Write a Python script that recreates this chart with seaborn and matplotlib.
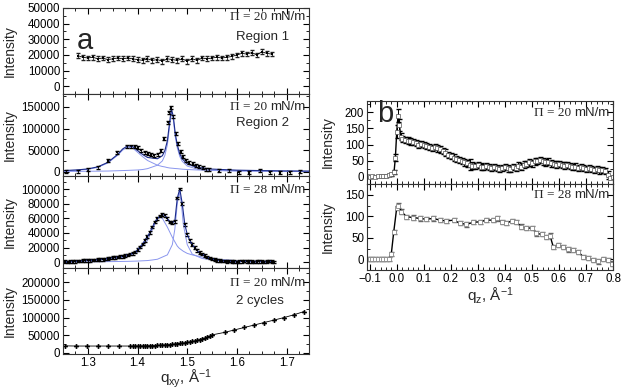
import numpy as np
import pandas as pd
import matplotlib
matplotlib.use("Agg")
import matplotlib.pyplot as plt
from matplotlib.ticker import MultipleLocator
import seaborn as sns

# ---- panel a1: region 1, 20 mN/m
r1_q = [1.28, 1.29, 1.30, 1.31, 1.32, 1.33, 1.34, 1.35, 1.36, 1.37, 1.38, 1.39, 1.40, 1.41,
        1.42, 1.43, 1.44, 1.45, 1.46, 1.47, 1.48, 1.49, 1.50, 1.51, 1.52, 1.53, 1.54, 1.55,
        1.56, 1.57, 1.58, 1.59, 1.60, 1.61, 1.62, 1.63, 1.64, 1.65, 1.66, 1.67]
r1_i = [19500, 18500, 18000, 18500, 17500, 18000, 17000, 17500, 18000, 17500, 18000, 17500,
        17000, 16500, 17500, 16500, 17000, 16000, 17500, 17000, 16500, 17500, 16000, 17500,
        16500, 18000, 17500, 18000, 18500, 18000, 18500, 19000, 20000, 21000, 20500, 21500,
        20000, 22000, 21000, 20500]

# ---- panel a2: region 2, 20 mN/m
r2_q = [1.257, 1.281, 1.301, 1.321, 1.341, 1.359, 1.379, 1.387, 1.394, 1.401, 1.407, 1.414,
        1.421, 1.427, 1.434, 1.441, 1.447, 1.454, 1.461, 1.464, 1.467, 1.472, 1.477, 1.482,
        1.487, 1.492, 1.497, 1.504, 1.511, 1.517, 1.524, 1.531, 1.537, 1.544, 1.564, 1.584,
        1.604, 1.624, 1.647, 1.667, 1.687, 1.707, 1.727]
r2_i = [0, 1500, 4000, 10000, 25000, 45000, 58000, 59000, 58000, 55000, 50000, 45000,
        42000, 39000, 38000, 40000, 48000, 76000, 115000, 138000, 148000, 128000, 88000, 65000,
        46000, 35000, 27000, 21000, 18000, 14000, 11500, 9000, 6000, 4000, 2000, 3000,
        -1500, -2000, 3000, -1500, -3000, -1000, 0]
r2_fit_q = [1.25, 1.28, 1.30, 1.32, 1.34, 1.36, 1.37, 1.38, 1.39, 1.40, 1.41, 1.42, 1.44,
            1.45, 1.455, 1.46, 1.465, 1.468, 1.472, 1.476, 1.48, 1.485, 1.49, 1.50, 1.52,
            1.55, 1.60, 1.65, 1.70, 1.75]
r2_fit_broad = [2000, 3500, 5500, 10000, 20000, 38000, 50000, 57000, 55000, 45000, 35000,
                26000, 15000, 12000, 11000, 9500, 8500, 8200, 7800, 7300, 7000, 6400, 5800,
                5000, 4000, 3000, 2000, 1500, 1000, 800]
r2_fit_sharp = [500, 700, 1000, 1200, 1500, 2200, 2600, 3000, 3500, 4000, 5000, 7000, 15000,
                25000, 38000, 62000, 110000, 138000, 120000, 80000, 55000, 35000, 24000,
                13000, 6000, 3000, 1500, 1000, 700, 500]
r2_fit_total = [2500, 4200, 6500, 11200, 21500, 40000, 52600, 60000, 58500, 49000, 40000,
                33000, 30000, 37000, 49000, 71500, 118500, 146000, 127800, 87300, 62000,
                41400, 29800, 18000, 10000, 6000, 3500, 2500, 1700, 1300]

# ---- panel a3: 28 mN/m
r3_q = [1.255, 1.26, 1.265, 1.27, 1.275, 1.28, 1.285, 1.29, 1.295, 1.30, 1.305, 1.31, 1.315,
        1.32, 1.325, 1.33, 1.335, 1.34, 1.345, 1.35, 1.355, 1.36, 1.365, 1.37, 1.375, 1.38,
        1.385, 1.39, 1.395, 1.40, 1.405, 1.41, 1.415, 1.42, 1.425, 1.43, 1.435, 1.44, 1.445,
        1.45, 1.455, 1.46, 1.465, 1.47, 1.475, 1.48, 1.485, 1.49, 1.495, 1.50, 1.505, 1.51,
        1.515, 1.52, 1.525, 1.53, 1.535, 1.54, 1.545, 1.55, 1.555, 1.56, 1.565, 1.57, 1.575,
        1.58, 1.585, 1.59, 1.595, 1.60, 1.605, 1.61, 1.615, 1.62, 1.625, 1.63, 1.635, 1.64,
        1.645, 1.65, 1.655, 1.66, 1.665, 1.67, 1.675]
r3_i = [500, 0, 500, 800, 1000, 1500, 1500, 2000, 2500, 2500, 2500, 3000, 3000, 3500, 3500,
        4000, 4500, 5000, 5500, 6000, 6500, 7000, 7500, 8000, 9000, 10000, 11000, 12000, 14000,
        17000, 21000, 25000, 30000, 35000, 41000, 48000, 55000, 60000, 63000, 65000, 64000,
        60000, 55000, 54000, 56000, 88000, 100000, 80000, 52000, 38000, 30000, 24000, 20000,
        16000, 13000, 11000, 9000, 7000, 5500, 4500, 3500, 2500, 2000, 1500, 1500, 1000, 1500,
        500, 500, 0, 500, 1000, 1500, 1000, 500, 500, 0, 500, 1000, 500, 0, 500, 1500, 500, 0]
r3_fit_q = [1.25, 1.30, 1.35, 1.38, 1.40, 1.42, 1.43, 1.44, 1.445, 1.45, 1.46, 1.47, 1.475,
            1.48, 1.484, 1.488, 1.492, 1.50, 1.51, 1.53, 1.56, 1.60, 1.67]
r3_fit_broad = [1000, 2000, 4000, 8000, 14000, 30000, 45000, 59000, 62000, 60000, 48000,
                34000, 28000, 22000, 19000, 17000, 15000, 12000, 10000, 7000, 4000, 2000, 1000]
r3_fit_sharp = [300, 500, 800, 1100, 1500, 2200, 3000, 4000, 5500, 7000, 10000, 24000, 45000,
                80000, 96000, 82000, 52000, 24000, 11000, 5000, 2500, 1200, 600]

# ---- panel a4: 2 cycles, 20 mN/m
c2_q = [1.255, 1.277, 1.299, 1.32, 1.341, 1.362, 1.385, 1.39, 1.395, 1.40, 1.405, 1.41, 1.415,
        1.42, 1.425, 1.43, 1.435, 1.44, 1.445, 1.45, 1.455, 1.46, 1.465, 1.47, 1.475, 1.48,
        1.485, 1.49, 1.495, 1.50, 1.505, 1.51, 1.515, 1.52, 1.525, 1.53, 1.535, 1.54, 1.545,
        1.55, 1.575, 1.595, 1.615, 1.635, 1.655, 1.675, 1.695, 1.715, 1.735]
c2_i = [20000, 19500, 19500, 19500, 19500, 19500, 19500, 19500, 19600, 19700, 19800, 20000,
        20100, 20300, 20500, 20800, 21000, 21400, 21800, 22200, 22700, 23200, 23800, 24500,
        25200, 26000, 26800, 27700, 28700, 29800, 31000, 32400, 34000, 35800, 37700, 39800,
        42000, 44500, 47500, 51000, 58000, 65000, 72000, 79000, 86000, 93000, 100000, 108000,
        117000]

# ---- panel b1: qz scan, 20 mN/m
b1_q = [-0.11, -0.10, -0.09, -0.08, -0.07, -0.06, -0.05, -0.04, -0.03, -0.02, -0.01, -0.005,
        0.0, 0.005, 0.01, 0.015, 0.02, 0.03, 0.04, 0.05, 0.06, 0.07, 0.08, 0.09, 0.10, 0.11,
        0.12, 0.13, 0.14, 0.15, 0.16, 0.17, 0.18, 0.19, 0.20, 0.21, 0.22, 0.23, 0.24, 0.25,
        0.26, 0.27, 0.28, 0.29, 0.30, 0.31, 0.32, 0.33, 0.34, 0.35, 0.36, 0.37, 0.38, 0.39,
        0.40, 0.41, 0.42, 0.43, 0.44, 0.45, 0.46, 0.47, 0.48, 0.49, 0.50, 0.51, 0.52, 0.53,
        0.54, 0.55, 0.56, 0.57, 0.58, 0.59, 0.60, 0.61, 0.62, 0.63, 0.64, 0.65, 0.66, 0.67,
        0.68, 0.69, 0.70, 0.71, 0.72, 0.73, 0.74, 0.75, 0.76, 0.77, 0.78, 0.79, 0.80]
b1_i = [2, 1, 2, 1, 2, 2, 3, 3, 5, 8, 15, 60, 140, 190, 160, 125, 118, 115, 112, 110, 108,
        105, 100, 102, 98, 95, 93, 90, 92, 88, 85, 80, 75, 68, 65, 60, 55, 52, 50, 45, 42, 38,
        35, 33, 36, 32, 30, 34, 31, 28, 30, 27, 25, 28, 30, 26, 25, 30, 28, 35, 32, 38, 40, 45,
        42, 48, 50, 52, 48, 45, 47, 42, 40, 38, 40, 37, 35, 36, 33, 30, 32, 28, 30, 27, 25, 28,
        24, 22, 25, 20, 22, 18, 5, -2, 0]
b1_err = [2, 2, 2, 2, 2, 2, 2, 2, 3, 4, 6, 12, 20, 20, 18, 12, 10, 10, 10, 10, 10, 10, 10,
          10, 10, 10, 10, 10, 10, 10, 10, 10, 10, 10, 10, 10, 10, 10, 10, 10, 10, 18, 10, 10,
          10, 10, 10, 10, 10, 10, 10, 10, 10, 10, 10, 10, 10, 10, 10, 10, 10, 10, 10, 10, 10,
          10, 10, 10, 10, 10, 10, 10, 10, 10, 10, 10, 10, 10, 10, 10, 10, 10, 10, 10, 10, 10,
          10, 10, 10, 10, 10, 10, 12, 5, 4]

# ---- panel b2: qz scan, 28 mN/m
b2_q = [-0.11, -0.10, -0.09, -0.08, -0.07, -0.06, -0.05, -0.04, -0.03, -0.02, -0.011, 0.0,
        0.006, 0.017, 0.036, 0.06, 0.085, 0.11, 0.135, 0.16, 0.184, 0.21, 0.233, 0.258,
        0.283, 0.307, 0.332, 0.357, 0.37, 0.388, 0.406, 0.425, 0.443, 0.46, 0.48, 0.50,
        0.517, 0.536, 0.554, 0.567, 0.579, 0.598, 0.616, 0.635, 0.653, 0.672, 0.69, 0.709,
        0.727, 0.746, 0.764, 0.783, 0.795]
b2_i = [0, 0, 0, 0, 0, 0, 0, 0, 1, 13, 64, 120, 125, 111, 99, 97, 95, 93, 95, 91, 89, 91,
        84, 81, 86, 87, 91, 91, 95, 87, 84, 89, 86, 76, 72, 73, 60, 58, 52, 55, 29, 33, 29,
        23, 21, 17, 5, 3, -2, -5, 0, -2, -10]

sns.set_theme(style="ticks")
plt.rcParams["font.family"] = ["Liberation Sans", "DejaVu Sans"]
plt.rcParams["mathtext.fontset"] = "custom"
plt.rcParams["mathtext.rm"] = "Liberation Sans"
plt.rcParams["mathtext.it"] = "Liberation Sans"
plt.rcParams["axes.linewidth"] = 0.8

fig = plt.figure(figsize=(6.24, 3.9), dpi=100)
L, W = 63 / 624, 246 / 624
ax1 = fig.add_axes([L, 1 - 94 / 390, W, 86 / 390])
ax2 = fig.add_axes([L, 1 - 176 / 390, W, 82 / 390])
ax3 = fig.add_axes([L, 1 - 268 / 390, W, 92 / 390])
ax4 = fig.add_axes([L, 1 - 354 / 390, W, 86 / 390])
R = 367 / 624
bx1 = fig.add_axes([R, 1 - 184 / 390, W, 83 / 390])
bx2 = fig.add_axes([R, 1 - 270 / 390, W, 86 / 390])


def style(ax, xmaj, xmin, ymaj, ymin, xlim, ylim, lab_x):
    ax.set_xlim(*xlim)
    ax.set_ylim(*ylim)
    ax.xaxis.set_major_locator(MultipleLocator(xmaj))
    ax.xaxis.set_minor_locator(MultipleLocator(xmin))
    ax.yaxis.set_major_locator(MultipleLocator(ymaj))
    ax.yaxis.set_minor_locator(MultipleLocator(ymin))
    ax.tick_params(which="both", direction="in", top=True, right=True,
                   labelsize=8.3, colors="black", pad=2)
    ax.tick_params(which="major", length=4, width=0.8)
    ax.tick_params(which="minor", length=2, width=0.6)
    ax.set_ylabel("Intensity", fontsize=10)
    ax.yaxis.set_label_coords(lab_x, 0.5)
    ax.set_xlabel("")
    for s in ax.spines.values():
        s.set_color("#333333")


def pi_label(ax, val, y):
    t = ax.text(0.985, y, "mN/m", transform=ax.transAxes, ha="right", va="center",
                fontsize=9.5)
    ax.annotate(f"Π = {val} ", xy=(0, 0.5), xycoords=t, ha="right", va="center",
                fontsize=9.5, family="Liberation Serif")


fit_light = "#8a96ee"
fit_dark = "#1a2a8a"

# a1
ax1.errorbar(r1_q, r1_i, yerr=1500, fmt="none", ecolor="#222222", elinewidth=0.6, capsize=1.5)
sns.lineplot(x=r1_q, y=r1_i, ax=ax1, color="black", lw=0.6, marker="s", ms=1.6, mew=0)
style(ax1, 0.1, 0.025, 10000, 5000, (1.25, 1.745), (-5000, 50000), -0.19)
ax1.tick_params(labelbottom=False)
pi_label(ax1, 20, 0.895)
ax1.text(0.705, 0.66, "Region 1", transform=ax1.transAxes, fontsize=9.5, va="center")
ax1.text(0.055, 0.62, "a", transform=ax1.transAxes, fontsize=21, va="center")

# a2
sns.lineplot(x=r2_fit_q, y=r2_fit_broad, ax=ax2, color=fit_light, lw=0.7)
sns.lineplot(x=r2_fit_q, y=r2_fit_sharp, ax=ax2, color=fit_light, lw=0.7)
sns.lineplot(x=r2_fit_q, y=r2_fit_total, ax=ax2, color=fit_dark, lw=0.8)
ax2.errorbar(r2_q, r2_i, yerr=3500, fmt="none", ecolor="black", elinewidth=0.6, capsize=1.5)
sns.scatterplot(x=r2_q, y=r2_i, ax=ax2, color="black", marker="s", s=4, linewidth=0)
style(ax2, 0.1, 0.025, 50000, 25000, (1.25, 1.745), (-10000, 180000), -0.19)
ax2.tick_params(labelbottom=False)
pi_label(ax2, 20, 0.84)
ax2.text(0.705, 0.645, "Region 2", transform=ax2.transAxes, fontsize=9.5, va="center")

# a3
sns.lineplot(x=r3_fit_q, y=r3_fit_broad, ax=ax3, color=fit_light, lw=0.7)
sns.lineplot(x=r3_fit_q, y=r3_fit_sharp, ax=ax3, color=fit_light, lw=0.7)
ax3.errorbar(r3_q, r3_i, yerr=1800, fmt="none", ecolor="black", elinewidth=0.6, capsize=1.5)
sns.lineplot(x=r3_q, y=r3_i, ax=ax3, color=fit_dark, lw=0.8, marker="s", ms=1.8,
             mew=0, mfc="black")
style(ax3, 0.1, 0.025, 20000, 10000, (1.25, 1.745), (-8000, 118000), -0.19)
ax3.tick_params(labelbottom=False)
pi_label(ax3, 28, 0.848)

# a4
sns.lineplot(x=c2_q, y=c2_i, ax=ax4, color="black", lw=0.6, marker="P", ms=3.5, mew=0)
style(ax4, 0.1, 0.025, 50000, 25000, (1.25, 1.745), (-3000, 240000), -0.19)
pi_label(ax4, 20, 0.826)
ax4.text(0.705, 0.616, "2 cycles", transform=ax4.transAxes, fontsize=9.5, va="center")
fig.text(L + W / 2, 1 - 379 / 390, r"$\mathrm{q_{xy}}$, Å$^{\mathrm{-1}}$",
         ha="center", va="center", fontsize=11)

# b1
ax = bx1
ax.errorbar(b1_q, b1_i, yerr=b1_err, fmt="none", ecolor="black", elinewidth=0.7, capsize=1.8)
sns.lineplot(x=b1_q, y=b1_i, ax=ax, color="black", lw=1.0, marker="s", ms=3,
             mfc="white", mec="#555555", mew=0.5)
style(ax, 0.1, 0.02, 50, 25, (-0.11, 0.8), (-22, 235), -0.13)
ax.tick_params(labelbottom=False)
pi_label(ax, 20, 0.855)
ax.text(0.04, 0.84, "b", transform=ax.transAxes, fontsize=21, va="center")

# b2
ax = bx2
ax.errorbar(b2_q, b2_i, yerr=5, fmt="none", ecolor="#666666", elinewidth=0.6, capsize=1.8)
sns.lineplot(x=b2_q, y=b2_i, ax=ax, color="black", lw=1.0, marker="s", ms=3.5,
             mfc="white", mec="#888888", mew=0.6)
style(ax, 0.1, 0.02, 50, 25, (-0.11, 0.8), (-25, 175), -0.13)
pi_label(ax, 28, 0.872)
fig.text(R + W / 2, 1 - 296 / 390, r"$\mathrm{q_{z}}$, Å$^{\mathrm{-1}}$",
         ha="center", va="center", fontsize=11)

fig.savefig("out.png", dpi=100)
